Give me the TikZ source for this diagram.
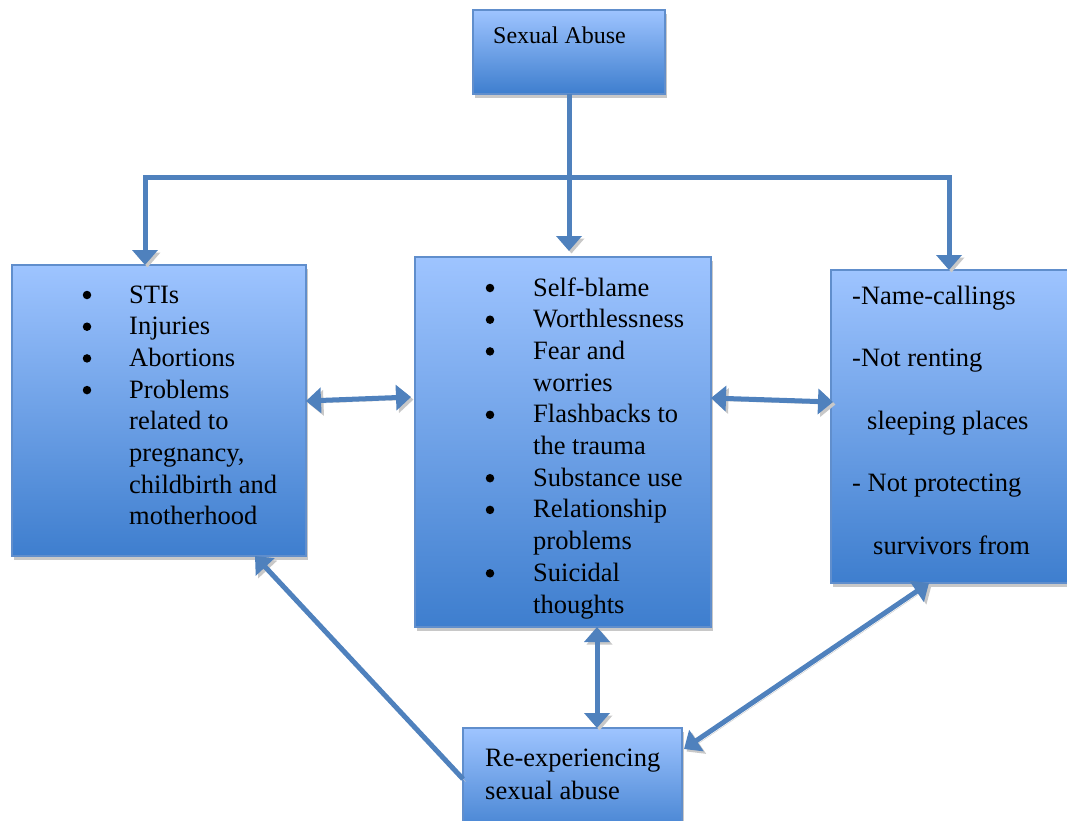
\documentclass[tikz,border=0pt]{standalone}
\usepackage{fontspec}
\setmainfont{Liberation Serif}
\usetikzlibrary{arrows.meta,shadows,calc}
\definecolor{boxtop}{RGB}{158,196,255}
\definecolor{boxbot}{RGB}{62,126,206}
\definecolor{boxline}{RGB}{96,142,204}
\definecolor{link}{RGB}{79,129,189}
\definecolor{shade}{RGB}{200,200,200}
\tikzset{
  bigtri/.tip={Triangle[width=25pt,length=15pt]},
  box/.style={draw=boxline, line width=1.2pt, top color=boxtop, bottom color=boxbot,
    inner sep=0pt, outer sep=0pt,
    drop shadow={shadow xshift=1.5pt, shadow yshift=-4pt, fill=shade, opacity=1}},
  conn/.style={draw=link, line width=5pt,
    preaction={draw=shade, transform canvas={shift={(2.5pt,-2.5pt)}}}},
  txt/.style={font=\fontsize{26.5}{31.7}\selectfont, inner sep=0pt, anchor=base west},
  dot/.style={circle, fill=black, inner sep=0pt, minimum size=8.5pt, yshift=8pt},
}
\begin{document}
\begin{tikzpicture}[x=1pt,y=-1pt]
\useasboundingbox (0,0) rectangle (1067,820);
\clip (0,0) rectangle (1067,820);

% boxes
\node[box, minimum width=192pt, minimum height=84pt]  (top)   at (569,52)    {};
\node[box, minimum width=294pt, minimum height=291pt] (left)  at (159,410.5) {};
\node[box, minimum width=296pt, minimum height=370pt] (mid)   at (563,442)   {};
\node[box, minimum width=249pt, minimum height=313pt] (right) at (955.5,426.5) {};
\node[box, minimum width=219pt, minimum height=112pt] (bot)   at (572.5,784) {};

% connectors
\coordinate (jl) at (145,177);
\coordinate (jr) at (949,177);
\draw[conn, -bigtri] (top.south) -- ($(top.south |- mid.north)+(0,-6)$);
\draw[conn, bigtri-bigtri] (jl |- left.north) -- (jl) -- (jr) -- (jr |- right.north);
\draw[conn, bigtri-bigtri] ($(left.east)+(0,-9.5)$) -- ($(mid.west)+(-4,-45)$);
\draw[conn, bigtri-bigtri] ($(mid.east)+(0,-44)$) -- ($(right.west)+(2,-24.5)$);
\draw[conn, bigtri-bigtri] ($(mid.south)+(34,0)$) -- ($(bot.north)+(24.5,0)$);
\draw[conn, -bigtri] ($(bot.west)+(0,-5)$) -- ($(left.south)+(96,0)$);
\draw[conn, bigtri-bigtri] ($(bot.east)+(2,-35)$) -- ($(right.south)+(-26.5,0)$);

% top box text
\node[txt, font=\fontsize{24}{29}\selectfont] (t1) at (493,43) {Sexual Abuse};

% left box list
\node[dot] (lb1) at (87,303)   {};
\node[dot] (lb2) at (87,334.7) {};
\node[dot] (lb3) at (87,366.4) {};
\node[dot] (lb4) at (87,398.1) {};
\node[txt] (l1) at (129,303)   {STIs};
\node[txt] (l2) at (129,334.7) {Injuries};
\node[txt] (l3) at (129,366.4) {Abortions};
\node[txt] (l4) at (129,398.1) {Problems};
\node[txt] (l5) at (129,429.8) {related to};
\node[txt] (l6) at (129,461.5) {pregnancy,};
\node[txt] (l7) at (129,493.2) {childbirth and};
\node[txt] (l8) at (129,524.9) {motherhood};

% middle box list
\node[dot] (mb1) at (490,296)   {};
\node[dot] (mb2) at (490,327.7) {};
\node[dot] (mb3) at (490,359.4) {};
\node[dot] (mb4) at (490,422.8) {};
\node[dot] (mb5) at (490,486.2) {};
\node[dot] (mb6) at (490,517.9) {};
\node[dot] (mb7) at (490,581.3) {};
\node[txt] (m1)  at (533,296)   {Self-blame};
\node[txt] (m2)  at (533,327.7) {Worthlessness};
\node[txt] (m3)  at (533,359.4) {Fear and};
\node[txt] (m4)  at (533,391.1) {worries};
\node[txt] (m5)  at (533,422.8) {Flashbacks to};
\node[txt] (m6)  at (533,454.5) {the trauma};
\node[txt] (m7)  at (533,486.2) {Substance use};
\node[txt] (m8)  at (533,517.9) {Relationship};
\node[txt] (m9)  at (533,549.6) {problems};
\node[txt] (m10) at (533,581.3) {Suicidal};
\node[txt] (m11) at (533,613)   {thoughts};

% right box text
\node[txt] (r1) at (852,304)   {-Name-callings};
\node[txt] (r2) at (852,366.5) {-Not renting};
\node[txt] (r3) at (867,429)   {sleeping places};
\node[txt] (r4) at (852,491.5) {- Not protecting};
\node[txt] (r5) at (873,554)   {survivors from};

% bottom box text
\node[txt] (b1) at (485,766) {Re-experiencing};
\node[txt] (b2) at (485,799) {sexual abuse};
\end{tikzpicture}
\end{document}
